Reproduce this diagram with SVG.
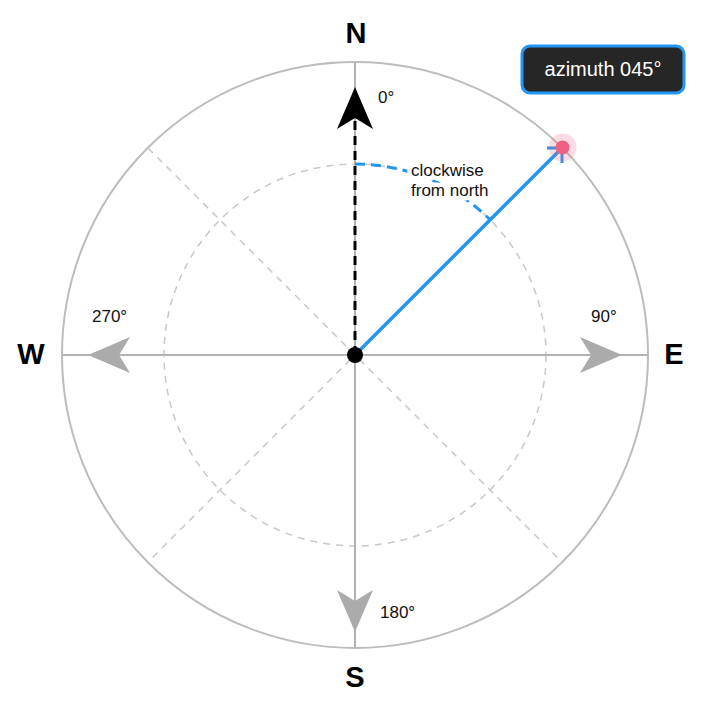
<svg xmlns="http://www.w3.org/2000/svg" width="710" height="710" viewBox="0 0 710 710">
<defs>
<style>
.axis{stroke:#b3b3b3;stroke-width:2;fill:none}
.guide{stroke:#c8c8c8;stroke-width:1.5;fill:none;stroke-dasharray:7 6}
.garrow{fill:#ababab}
.card{font-family:"Liberation Sans",Arial,sans-serif;font-weight:bold;font-size:29px;fill:#000;text-anchor:middle}
.deg{font-family:"Liberation Sans",Arial,sans-serif;font-size:17px;fill:#111}
.note{font-family:"Liberation Sans",Arial,sans-serif;font-size:17px;fill:#111;stroke:#fff;stroke-width:9;stroke-linejoin:round;paint-order:stroke}
</style>
<path id="ah" d="M0,0 L-42,-18 L-31,0 L-42,18 Z"/>
</defs>
<rect width="710" height="710" fill="#fff"/>
<g id="dial">
<circle cx="355" cy="355" r="293" fill="none" stroke="#bdbdbd" stroke-width="2"/>
<circle cx="355" cy="355" r="191" class="guide"/>
<line x1="148" y1="148" x2="562" y2="562" class="guide"/>
<line x1="562" y1="148" x2="148" y2="562" class="guide"/>
<line x1="355" y1="62" x2="355" y2="648" class="axis"/>
<line x1="62" y1="355" x2="648" y2="355" class="axis"/>
</g>
<g id="arrows">
<use href="#ah" class="garrow" transform="translate(622,355)"/>
<use href="#ah" class="garrow" transform="translate(88,355) rotate(180)"/>
<use href="#ah" class="garrow" transform="translate(355,632) rotate(90)"/>
<line x1="355" y1="355" x2="355" y2="118" stroke="#000" stroke-width="3" stroke-dasharray="9 6"/>
<use href="#ah" fill="#000" transform="translate(355,87) rotate(-90)"/>
</g>
<g id="sweep">
<path d="M355,164 A191,191 0 0 1 490.1,219.9" fill="none" stroke="#2196f3" stroke-width="3" stroke-dasharray="10 6"/>
</g>
<g id="labels">
<text class="card" x="356" y="43">N</text>
<text class="card" x="674" y="364">E</text>
<text class="card" x="355" y="687">S</text>
<text class="card" x="31" y="364">W</text>
<text class="deg" x="378" y="103">0°</text>
<text class="deg" x="591" y="322">90°</text>
<text class="deg" x="92" y="322">270°</text>
<text class="deg" x="380" y="618">180°</text>
<text class="note" x="411" y="176">clockwise</text>
<text class="note" x="411" y="196">from north</text>
</g>
<g id="bearing">
<line x1="355" y1="355" x2="561" y2="149" stroke="#2196f3" stroke-width="3.5"/>
<path d="M547,148 L562,148 L562,163" fill="none" stroke="#2196f3" stroke-width="3"/>
<circle cx="355" cy="355" r="8" fill="#000"/>
<circle cx="562.5" cy="147.5" r="14" fill="#f06080" fill-opacity="0.22"/>
<circle cx="562.5" cy="147.5" r="7" fill="#f06080"/>
</g>
<g id="badge">
<rect x="522" y="46" width="162" height="47" rx="8" fill="#262626" stroke="#2196f3" stroke-width="3"/>
<text x="603" y="76" font-family="'Liberation Sans',Arial,sans-serif" font-size="20" fill="#fff" text-anchor="middle">azimuth 045°</text>
</g>
</svg>
